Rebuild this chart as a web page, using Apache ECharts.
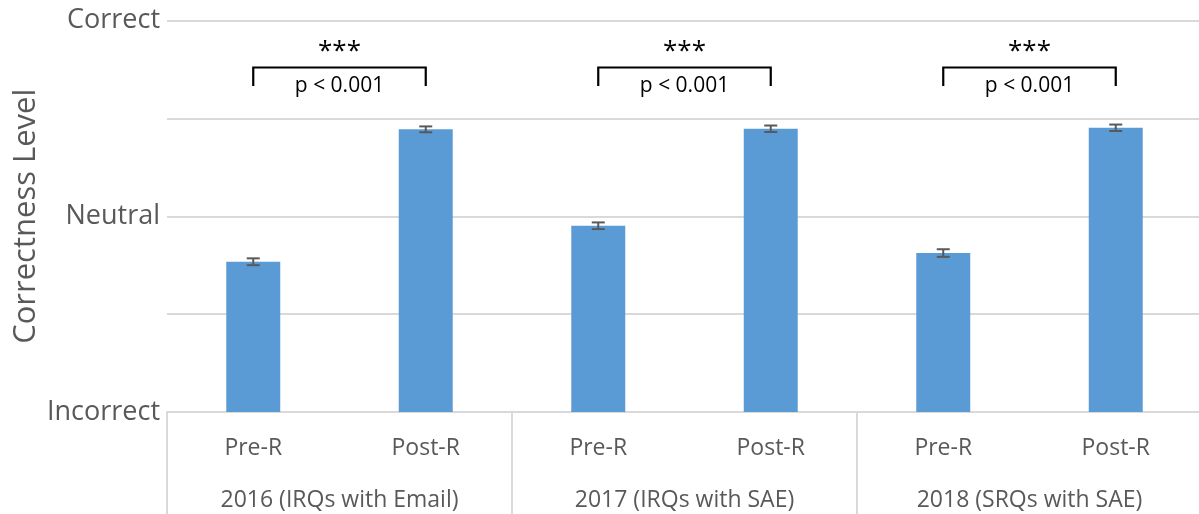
<!DOCTYPE html>
<html>
<head>
<meta charset="utf-8">
<script src="https://cdn.jsdelivr.net/npm/echarts@6/dist/echarts.min.js"></script>
<style>
  html, body { margin: 0; padding: 0; background: #fff; }
  #chart { width: 1199px; height: 514px; }
</style>
</head>
<body>
<div id="chart"></div>
<script>
// Survey phases within each year, and the year/question-type groups
const categories = ['Pre-R', 'Post-R', 'Pre-R', 'Post-R', 'Pre-R', 'Post-R'];
const groups = ['2016 (IRQs with Email)', '2017 (IRQs with SAE)', '2018 (SRQs with SAE)'];

// Mean correctness level (1 = Incorrect, 3 = Neutral, 5 = Correct) and standard error
const means = [2.535, 3.888, 2.903, 3.894, 2.624, 3.904];
const errors = [0.035, 0.030, 0.034, 0.033, 0.039, 0.033];

// Y-axis tick labels by level
const levelNames = { 1: 'Incorrect', 3: 'Neutral', 5: 'Correct' };

// Significance comparisons: bar index pairs and their annotations
const bracketFrom = [0, 2, 4];
const bracketTo = [1, 3, 5];
const starLabels = ['***', '***', '***'];
const pLabels = ['p < 0.001', 'p < 0.001', 'p < 0.001'];

const FONT = '"Open Sans", sans-serif';
const GREY_TEXT = '#595959';
const GRID_LINE = '#d9d9d9';

const chart = echarts.init(document.getElementById('chart'), null, { renderer: 'canvas' });

const errorData = means.map((m, i) => [i, m, errors[i]]);
const bracketData = bracketFrom.map((f, i) => [f, bracketTo[i], i]);

const option = {
  animation: false,
  backgroundColor: '#fff',
  grid: {
    left: 167, top: 20.5, width: 1035, height: 391.5,
    containLabel: false, outerBoundsMode: 'none'
  },
  xAxis: [
    {
      type: 'category',
      data: categories,
      position: 'bottom',
      axisLine: { show: true, lineStyle: { color: GRID_LINE, width: 2 } },
      axisTick: { show: false },
      axisLabel: { color: GREY_TEXT, fontFamily: FONT, fontSize: 23, margin: 25 },
      splitLine: { show: false }
    },
    {
      type: 'category',
      data: groups,
      position: 'bottom',
      axisLine: { show: false },
      axisTick: { show: true, length: 104, interval: 0, lineStyle: { color: GRID_LINE, width: 2 } },
      axisLabel: { color: GREY_TEXT, fontFamily: FONT, fontSize: 23, margin: 77 },
      splitLine: { show: false }
    }
  ],
  yAxis: {
    type: 'value',
    min: 1,
    max: 5,
    interval: 1,
    name: 'Correctness Level',
    nameLocation: 'middle',
    nameGap: 125,
    nameMoveOverlap: false,
    nameTextStyle: { color: GREY_TEXT, fontFamily: FONT, fontSize: 31 },
    axisLine: { show: false },
    axisTick: { show: false },
    axisLabel: {
      color: GREY_TEXT, fontFamily: FONT, fontSize: 27, margin: 7,
      formatter: v => levelNames[v] || ''
    },
    splitLine: { lineStyle: { color: GRID_LINE, width: 2 } }
  },
  series: [
    {
      name: 'Mean',
      type: 'bar',
      xAxisIndex: 0,
      data: means,
      barWidth: 54,
      itemStyle: { color: '#5b9bd5' }
    },
    {
      name: 'Error',
      type: 'custom',
      xAxisIndex: 0,
      data: errorData,
      z: 5,
      renderItem: (params, api) => {
        const x = api.value(0), m = api.value(1), e = api.value(2);
        const hi = api.coord([x, m + e]);
        const lo = api.coord([x, m - e]);
        const cap = 6.5;
        const style = { stroke: '#595959', lineWidth: 2 };
        return {
          type: 'group',
          children: [
            { type: 'line', shape: { x1: hi[0], y1: hi[1], x2: lo[0], y2: lo[1] }, style },
            { type: 'line', shape: { x1: hi[0] - cap, y1: hi[1], x2: hi[0] + cap, y2: hi[1] }, style },
            { type: 'line', shape: { x1: lo[0] - cap, y1: lo[1], x2: lo[0] + cap, y2: lo[1] }, style }
          ]
        };
      }
    },
    {
      name: 'Significance',
      type: 'custom',
      xAxisIndex: 0,
      data: bracketData,
      z: 6,
      clip: false,
      renderItem: (params, api) => {
        const a = api.value(0), b = api.value(1), k = api.value(2);
        const topY = 4.52, footY = 4.33;
        const pl = api.coord([a, topY]);
        const pr = api.coord([b, topY]);
        const fl = api.coord([a, footY]);
        const midX = (pl[0] + pr[0]) / 2;
        const style = { stroke: '#000', lineWidth: 2.2, fill: null };
        return {
          type: 'group',
          children: [
            {
              type: 'polyline',
              shape: { points: [[pl[0], fl[1]], [pl[0], pl[1]], [pr[0], pr[1]], [pr[0], fl[1]]] },
              style
            },
            {
              type: 'text',
              style: {
                x: midX, y: pl[1] - 16, text: starLabels[k],
                fill: '#000', font: '26px ' + FONT, align: 'center', verticalAlign: 'middle'
              }
            },
            {
              type: 'text',
              style: {
                x: midX, y: pl[1] + 19, text: pLabels[k],
                fill: '#000', font: '21px ' + FONT, align: 'center', verticalAlign: 'middle'
              }
            }
          ]
        };
      }
    }
  ]
};

chart.setOption(option);
</script>
</body>
</html>
